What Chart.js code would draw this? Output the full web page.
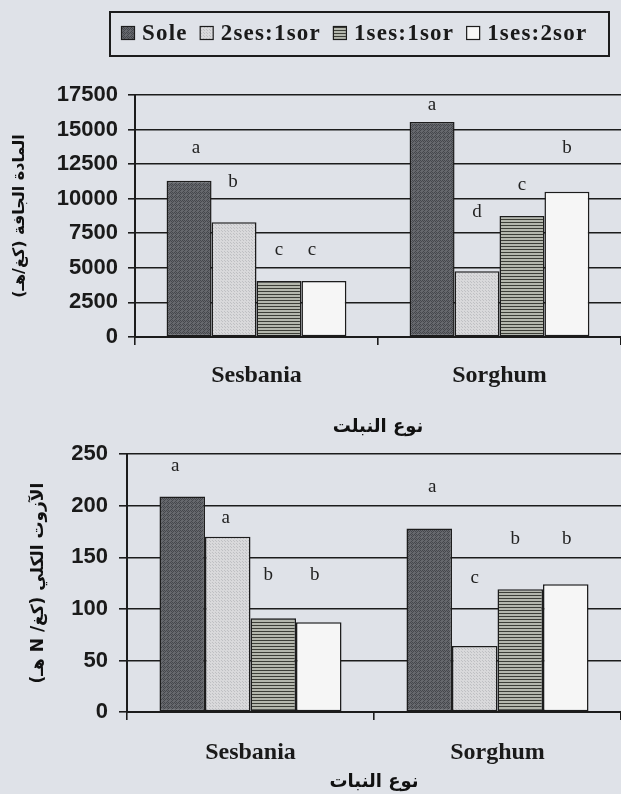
<!DOCTYPE html>
<html>
<head>
<meta charset="utf-8">
<script src="https://cdn.jsdelivr.net/npm/chart.js@4.4.1/dist/chart.umd.min.js"></script>
<style>
  html, body { margin: 0; padding: 0; background: #dfe2e8; }
  #wrap { position: relative; width: 621px; height: 794px; overflow: hidden; background: #dfe2e8; }
  canvas { position: absolute; left: 0; }
  #dmChart { top: 0; }
  #nChart { top: 430px; }
</style>
</head>
<body>
<div id="wrap">
  <canvas id="dmChart" width="621" height="445" dir="rtl"></canvas>
  <canvas id="nChart" width="621" height="364" dir="rtl"></canvas>
</div>
<script>
// Crops and cropping systems
const categories = ['Sesbania', 'Sorghum'];
const systems = ['Sole', '2ses:1sor', '1ses:1sor', '1ses:2sor'];

// Dry matter (kg/ha) per system, [Sesbania, Sorghum]
const dmSole = [11300, 15550];
const dm2s1 = [8300, 4750];
const dm1s1 = [4050, 8750];
const dm1s2 = [4050, 10500];
const dmLetters = [['a', 'a'], ['b', 'd'], ['c', 'c'], ['c', 'b']];

// Total nitrogen (kg N/ha) per system, [Sesbania, Sorghum]
const nSole = [209, 178];
const n2s1 = [170, 64];
const n1s1 = [91, 119];
const n1s2 = [87, 124];
const nLetters = [['a', 'a'], ['a', 'c'], ['b', 'b'], ['b', 'b']];

// Axis titles
const dmYTitle = 'المادة الجافة (كغ/هـ)';
const dmXTitle = 'نوع النبلت';
const nYTitle = 'الآزوت الكلي (كغ/ N هـ)';
const nXTitle = 'نوع النبات';

const INK = '#1c1c1c';

// ---- fill textures for the four systems ----
function makePattern(w, h, paint) {
  const c = document.createElement('canvas');
  c.width = w; c.height = h;
  const g = c.getContext('2d');
  paint(g);
  return g.createPattern(c, 'repeat');
}
const fillSole = makePattern(4, 4, g => {
  g.fillStyle = '#66686d'; g.fillRect(0, 0, 4, 4);
  g.fillStyle = '#45474c';
  g.fillRect(0, 0, 1, 1); g.fillRect(2, 0, 1, 1); g.fillRect(1, 1, 1, 1); g.fillRect(3, 1, 1, 1);
  g.fillRect(0, 2, 1, 1); g.fillRect(3, 3, 1, 1);
});
const fill2s1 = makePattern(3, 3, g => {
  g.fillStyle = '#d9d9db'; g.fillRect(0, 0, 3, 3);
  g.fillStyle = '#bfc0c3'; g.fillRect(0, 0, 1, 1); g.fillRect(2, 2, 1, 1);
});
const fill1s1 = makePattern(3, 3, g => {
  g.fillStyle = '#b4b7ad'; g.fillRect(0, 0, 3, 3);
  g.fillStyle = '#3c3e37'; g.fillRect(0, 0, 3, 1);
});
const fill1s2 = '#f6f6f6';
const fills = [fillSole, fill2s1, fill1s1, fill1s2];

// ---- letters of significance above bars ----
const letterPlugin = {
  id: 'letters',
  afterDatasetsDraw(chart, args, opts) {
    const ctx = chart.ctx;
    ctx.save();
    ctx.font = '19px "Liberation Serif"';
    ctx.fillStyle = '#222';
    ctx.textAlign = 'center';
    ctx.textBaseline = 'middle';
    opts.letters.forEach((row, di) => {
      chart.getDatasetMeta(di).data.forEach((bar, i) => {
        ctx.fillText(row[i], bar.x + opts.shift[di][i], bar.y - opts.lift[di][i]);
      });
    });
    ctx.restore();
  }
};

// ---- boxed legend across the top ----
const boxLegend = {
  id: 'boxLegend',
  afterDraw(chart, args, opts) {
    if (!opts.show) return;
    const ctx = chart.ctx;
    ctx.save();
    ctx.strokeStyle = INK;
    ctx.lineWidth = 2;
    ctx.strokeRect(110, 12, 499, 44);
    ctx.font = 'bold 23px "Liberation Serif"';
    ctx.letterSpacing = '1.2px';
    ctx.textAlign = 'left';
    ctx.textBaseline = 'middle';
    let x = 121;
    chart.data.datasets.forEach(ds => {
      ctx.fillStyle = ds.backgroundColor;
      ctx.fillRect(x, 26, 13, 13);
      ctx.lineWidth = 1.2;
      ctx.strokeRect(x + 0.5, 26.5, 13, 13);
      x += 21;
      ctx.fillStyle = '#1a1a1a';
      ctx.fillText(ds.label, x, 34);
      x += ctx.measureText(ds.label).width + 12;
    });
    ctx.restore();
  }
};

function datasets(seriesList, catPct) {
  return seriesList.map((vals, k) => ({
    label: systems[k],
    data: vals,
    backgroundColor: fills[k],
    borderColor: INK,
    borderWidth: 1.5,
    borderSkipped: false,
    categoryPercentage: catPct,
    barPercentage: 1.0
  }));
}

function buildOptions(cfg) {
  return {
    responsive: false,
    animation: false,
    devicePixelRatio: 1,
    layout: { padding: { top: cfg.top, left: 0, right: 0, bottom: 0 } },
    plugins: {
      legend: { display: false },
      tooltip: { enabled: false },
      letters: cfg.letters,
      boxLegend: { show: cfg.legend }
    },
    scales: {
      x: {
        grid: { drawOnChartArea: false, drawTicks: true, tickLength: 8, color: INK, lineWidth: 1.6, offset: true },
        border: { display: true, color: INK, width: 2 },
        ticks: { font: { family: 'Liberation Serif', weight: 'bold', size: 24 }, color: '#1a1a1a', padding: cfg.xTickPad, maxRotation: 0 },
        title: { display: true, text: cfg.xTitle, font: { family: 'DejaVu Sans', weight: 'bold', size: 18 }, color: '#111', padding: { top: 0, bottom: cfg.xTitlePad } },
        afterFit(s) { s.height = cfg.xHeight; }
      },
      y: {
        min: 0,
        max: cfg.max,
        ticks: {
          stepSize: cfg.step,
          font: { family: 'Liberation Sans', weight: 'bold', size: cfg.yFont },
          color: '#1a1a1a',
          padding: cfg.yTickPad,
          callback: v => String(v)
        },
        grid: { color: INK, lineWidth: 1.6, tickLength: cfg.yTick },
        border: { color: INK, width: 2 },
        title: { display: true, text: cfg.yTitle, font: { family: 'DejaVu Sans', weight: 'bold', size: cfg.yTitleFont }, color: '#111', padding: { top: cfg.yTitlePad, bottom: 0 } },
        afterFit(s) { s.width = cfg.yWidth; }
      }
    }
  };
}

new Chart(document.getElementById('dmChart'), {
  type: 'bar',
  data: { labels: categories, datasets: datasets([dmSole, dm2s1, dm1s1, dm1s2], 0.74) },
  options: buildOptions({
    top: 95, max: 17500, step: 2500, yFont: 22, yTick: 7, yTickPad: 10, yWidth: 135,
    yTitle: dmYTitle, yTitleFont: 16, yTitlePad: 10,
    xTitle: dmXTitle, xTickPad: 16, xTitlePad: 7, xHeight: 108,
    legend: true,
    letters: {
      letters: dmLetters,
      lift: [[33, 17], [40, 59], [31, 31], [31, 44]],
      shift: [[7, 0], [-1, 0], [0, 0], [-12, 0]]
    }
  }),
  plugins: [letterPlugin, boxLegend]
});

new Chart(document.getElementById('nChart'), {
  type: 'bar',
  data: { labels: categories, datasets: datasets([nSole, n2s1, n1s1, n1s2], 0.737) },
  options: buildOptions({
    top: 22, max: 250, step: 50, yFont: 22, yTick: 8, yTickPad: 11, yWidth: 127,
    yTitle: nYTitle, yTitleFont: 17, yTitlePad: 28,
    xTitle: nXTitle, xTickPad: 18, xTitlePad: 1, xHeight: 82,
    legend: false,
    letters: {
      letters: nLetters,
      lift: [[30, 41], [19, 68], [43, 50], [47, 45]],
      shift: [[-7, 3], [-2, 0], [-5, -5], [-4, 1]]
    }
  }),
  plugins: [letterPlugin, boxLegend]
});
</script>
</body>
</html>
